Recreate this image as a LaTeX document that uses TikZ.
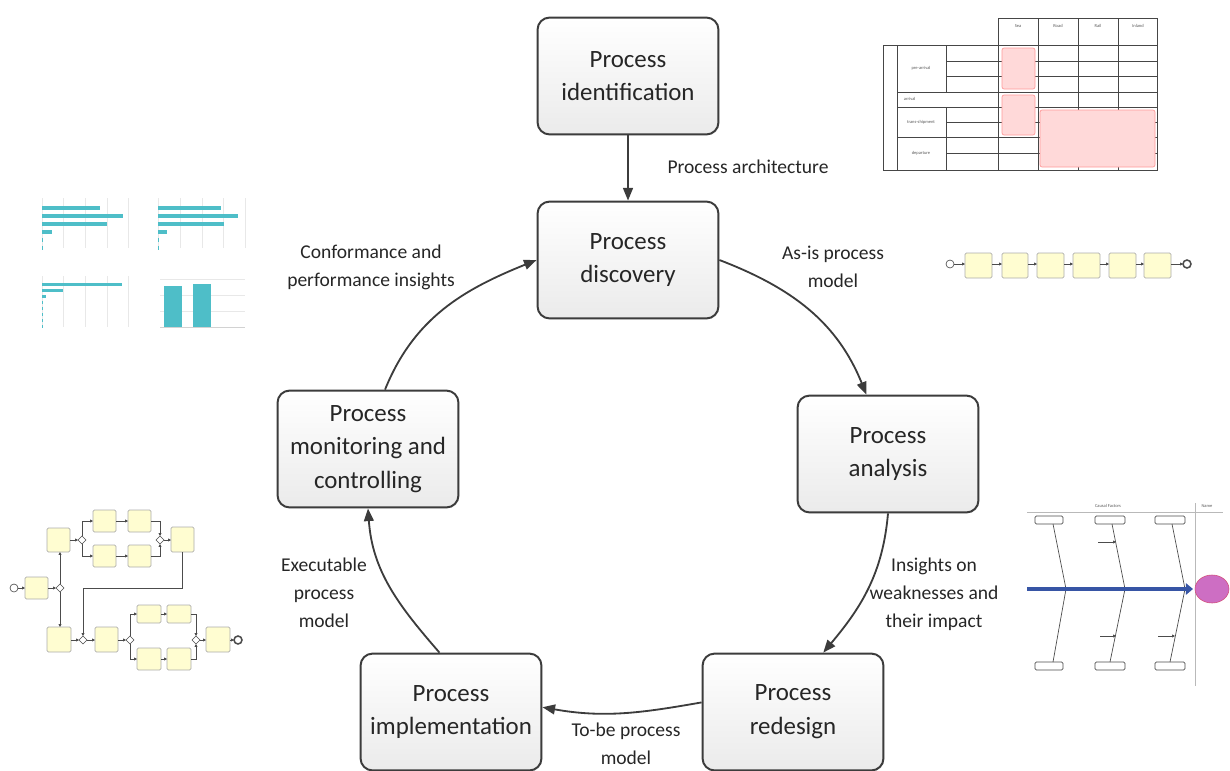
\documentclass[tikz,border=0pt]{standalone}
\usepackage{fontspec}
\setmainfont{Carlito}
\usetikzlibrary{arrows.meta,shadows}
\definecolor{linegray}{RGB}{60,60,60}
\definecolor{barteal}{RGB}{78,190,200}
\definecolor{spineblue}{RGB}{55,85,165}
\definecolor{effectpink}{RGB}{205,110,195}
\tikzset{
  phase/.style={draw=linegray, line width=1.4pt, rounded corners=8.5pt, top color=white, bottom color=gray!16,
    minimum width=4.52cm, minimum height=2.92cm, align=center, inner sep=2pt,
    font=\fontsize{17.7}{24}\selectfont, text=black!85,
    drop shadow={opacity=0.18, shadow xshift=0.7pt, shadow yshift=-0.7pt}},
  flow/.style={draw=linegray, line width=1.3pt, -{Triangle[length=9pt,width=7pt]}},
  flowlabel/.style={align=center, font=\fontsize{13.9}{20}\selectfont, text=black!85},
  cell/.style={draw=gray!55!black, line width=0.45pt},
  pinkbox/.style={draw=red!40, fill=red!15, rounded corners=1.5pt, line width=0.5pt},
  tiny/.style={font=\fontsize{3.2}{3.6}\selectfont, text=gray!70!black, align=center},
  grid/.style={draw=gray!18, line width=0.3pt},
  bar/.style={fill=barteal, draw=none},
  bpmntask/.style={draw=gray!65, fill=yellow!18, rounded corners=1pt, line width=0.45pt},
  bpmnflow/.style={draw=gray!60!black, line width=0.5pt, -{Triangle[length=2pt,width=2pt]}},
  bpmngate/.style={draw=gray!60!black, fill=white, line width=0.45pt},
  bone/.style={draw=gray!60!black, line width=0.5pt}
}
\newcommand{\gateway}[2]{\draw[bpmngate] (#1-4,#2) -- (#1,#2-4) -- (#1+4,#2) -- (#1,#2+4) -- cycle;}

\begin{document}
\begin{tikzpicture}[x=0.025cm, y=-0.025cm]
  \useasboundingbox (0,0) rectangle (1230,770);

  % the six phases
  \node[phase] (ident) at (628,76) {Process\\identification};
  \node[phase] (disc) at (628,260) {Process\\discovery};
  \node[phase] (anal) at (888,454) {Process\\analysis};
  \node[phase] (rede) at (793,712) {Process\\redesign};
  \node[phase] (impl) at (451,712) {Process\\implementation};
  \node[phase] (moni) at (368,449) {Process\\monitoring and\\controlling};

  % the cycle
  \draw[flow] (ident) -- (disc);
  \draw[flow] (disc.east) to[out=-21, in=112] (anal.110);
  \draw[flow] (anal.south) to[out=-95, in=50] (rede.63);
  \draw[flow] (rede.174) to[out=190, in=-10] (impl.3);
  \draw[flow] (impl.101) to[out=131, in=-86] (moni.south);
  \draw[flow] (moni.74) to[out=68, in=-158] (disc.west);

  \node[flowlabel] (lblarch) at (748,167) {Process architecture};
  \node[flowlabel] (lblasis) at (833,267) {As-is process\\model};
  \node[flowlabel] (lblconf) at (371,267) {Conformance and\\performance insights};
  \node[flowlabel] (lblweak) at (934,594) {Insights on\\weaknesses and\\their impact};
  \node[flowlabel] (lblexec) at (324,593) {Executable\\process\\model};
  \node[flowlabel] (lbltobe) at (626,744) {To-be process\\model};

  % architecture table (top right)
  \draw[cell] (998,18) rectangle (1157,45);
  \foreach \x in {1038,1078,1118} \draw[cell] (\x,18) -- (\x,170);
  \draw[cell] (883,45) rectangle (1157,170);
  \draw[cell] (897,45) -- (897,170);
  \draw[cell] (998,45) -- (998,170);
  \draw[cell] (946,45) -- (946,92);
  \draw[cell] (946,107) -- (946,170);
  \foreach \y in {61,76,122,153} \draw[cell] (946,\y) -- (1157,\y);
  \foreach \y in {92,107,137} \draw[cell] (897,\y) -- (1157,\y);
  \draw[pinkbox] (1002,48) rectangle (1035,89);
  \draw[pinkbox] (1002,95) rectangle (1035,135);
  \draw[pinkbox] (1040,110) rectangle (1155,167);
  \foreach \t [count=\i] in {Sea,Road,Rail,Inland}
    \node[tiny] (head\i) at (978+40*\i,26) {\t};
  \node[tiny] (grppre) at (921,68) {pre-arrival};
  \node[tiny, anchor=west] (grparr) at (899,99) {arrival};
  \node[tiny] (grptrans) at (921,122) {trans-shipment};
  \node[tiny] (grpdep) at (921,153) {departure};

  % bar charts (top left)
  \foreach \x in {42,63,85,107,128} {
    \draw[grid] (\x,198) -- (\x,248);
    \draw[grid] (\x,276) -- (\x,327);
  }
  \foreach \x in {158,180,202,223,245} \draw[grid] (\x,198) -- (\x,248);
  \foreach \e [count=\i] in {100,123,107,52,43,43}
    \fill[bar] (42,198+8*\i) rectangle (\e,202+8*\i);
  \foreach \e [count=\i] in {221,238,224,167,159,159}
    \fill[bar] (158,198+8*\i) rectangle (\e,202+8*\i);
  \foreach \e [count=\i] in {122,63,46,43,42.6,42.6,42.6,42.6}
    \fill[bar] (42,277+6*\i) rectangle (\e,280+6*\i);
  \foreach \y in {279,295,311} \draw[grid] (160,\y) -- (245,\y);
  \draw[draw=gray!35, line width=0.4pt] (160,327) -- (245,327);
  \fill[bar] (164,286) rectangle (182,327);
  \fill[bar] (193,284) rectangle (211,327);

  % as-is model (right)
  \draw[gray!60!black, line width=0.45pt] (950,264) circle (4);
  \foreach \a/\b in {965/992,1002/1028,1037/1064,1073/1100,1109/1136,1144/1171}
    \draw[bpmntask] (\a,253) rectangle (\b,278);
  \foreach \a/\b in {954/965,992/1002,1028/1037,1064/1073,1100/1109,1136/1144,1171/1183}
    \draw[bpmnflow] (\a,264) -- (\b,264);
  \draw[gray!60!black, line width=1.1pt] (1187,264) circle (4);

  % executable model (bottom left)
  \draw[gray!60!black, line width=0.45pt] (14,588) circle (4);
  \draw[bpmntask] (25,577) rectangle (48,599);
  \draw[bpmntask] (47,528) rectangle (70,552);
  \draw[bpmntask] (47,627) rectangle (71,652);
  \foreach \a/\b in {93/116,128/151} {
    \draw[bpmntask] (\a,510) rectangle (\b,532);
    \draw[bpmntask] (\a,545) rectangle (\b,567);
  }
  \draw[bpmntask] (171,527) rectangle (194,552);
  \draw[bpmntask] (95,627) rectangle (118,652);
  \foreach \a/\b in {137/161,167/191} {
    \draw[bpmntask] (\a,605) rectangle (\b,623);
    \draw[bpmntask] (\a,648) rectangle (\b,670);
  }
  \draw[bpmntask] (206,627) rectangle (230,652);
  \draw[gray!60!black, line width=1.1pt] (238,640) circle (4);
  \draw[bpmnflow] (18,588) -- (25,588);
  \draw[bpmnflow] (48,588) -- (56,588);
  \draw[bpmnflow] (60,584) -- (60,552);
  \draw[bpmnflow] (60,592) -- (60,627);
  \draw[bpmnflow] (70,540) -- (78,540);
  \draw[bpmnflow] (82,536) |- (93,521);
  \draw[bpmnflow] (82,544) |- (93,556);
  \draw[bpmnflow] (116,521) -- (128,521);
  \draw[bpmnflow] (116,556) -- (128,556);
  \draw[bpmnflow] (151,521) -| (160,536);
  \draw[bpmnflow] (151,556) -| (160,544);
  \draw[bpmnflow] (164,540) -- (171,540);
  \draw[bpmnflow] (182,552) -- (182,588) -- (83,588) -- (83,636);
  \draw[bpmnflow] (71,640) -- (79,640);
  \draw[bpmnflow] (87,640) -- (95,640);
  \draw[bpmnflow] (118,640) -- (126,640);
  \draw[bpmnflow] (130,636) |- (137,614);
  \draw[bpmnflow] (130,644) |- (137,659);
  \draw[bpmnflow] (161,614) -- (167,614);
  \draw[bpmnflow] (161,659) -- (167,659);
  \draw[bpmnflow] (191,614) -| (196,636);
  \draw[bpmnflow] (191,659) -| (196,644);
  \draw[bpmnflow] (200,640) -- (206,640);
  \draw[bpmnflow] (230,640) -- (234,640);
  \gateway{60}{588}
  \gateway{82}{540}
  \gateway{160}{540}
  \gateway{83}{640}
  \gateway{130}{640}
  \gateway{196}{640}

  % cause and effect diagram (bottom right)
  \draw[gray!55, line width=0.5pt] (1027,512) -- (1223,512);
  \draw[gray!55, line width=0.5pt] (1195,503) -- (1195,686);
  \node[tiny] (causal) at (1108,506) {Causal Factors};
  \node[tiny] (effname) at (1207,506) {Name};
  \foreach \a/\b in {1035/1063,1095/1125,1155/1185} {
    \draw[bone, fill=white, rounded corners=1pt] (\a,516) rectangle (\b,524);
    \draw[bone, fill=white, rounded corners=1pt] (\a,662) rectangle (\b,670);
  }
  \draw[bone] (1053,524) -- (1066,589) -- (1053,662);
  \draw[bone] (1112,524) -- (1125,589) -- (1110,662);
  \draw[bone] (1172,524) -- (1185,589) -- (1170,662);
  \draw[bpmnflow] (1098,542) -- (1116,542);
  \draw[bpmnflow] (1100,636) -- (1116,636);
  \draw[bpmnflow] (1158,636) -- (1175,636);
  \draw[spineblue, line width=3.4pt, -{Triangle[length=5pt,width=8pt]}] (1027,589) -- (1193,589);
  \draw[draw=purple!70, fill=effectpink] (1212,589) ellipse (17 and 14);
\end{tikzpicture}
\end{document}
